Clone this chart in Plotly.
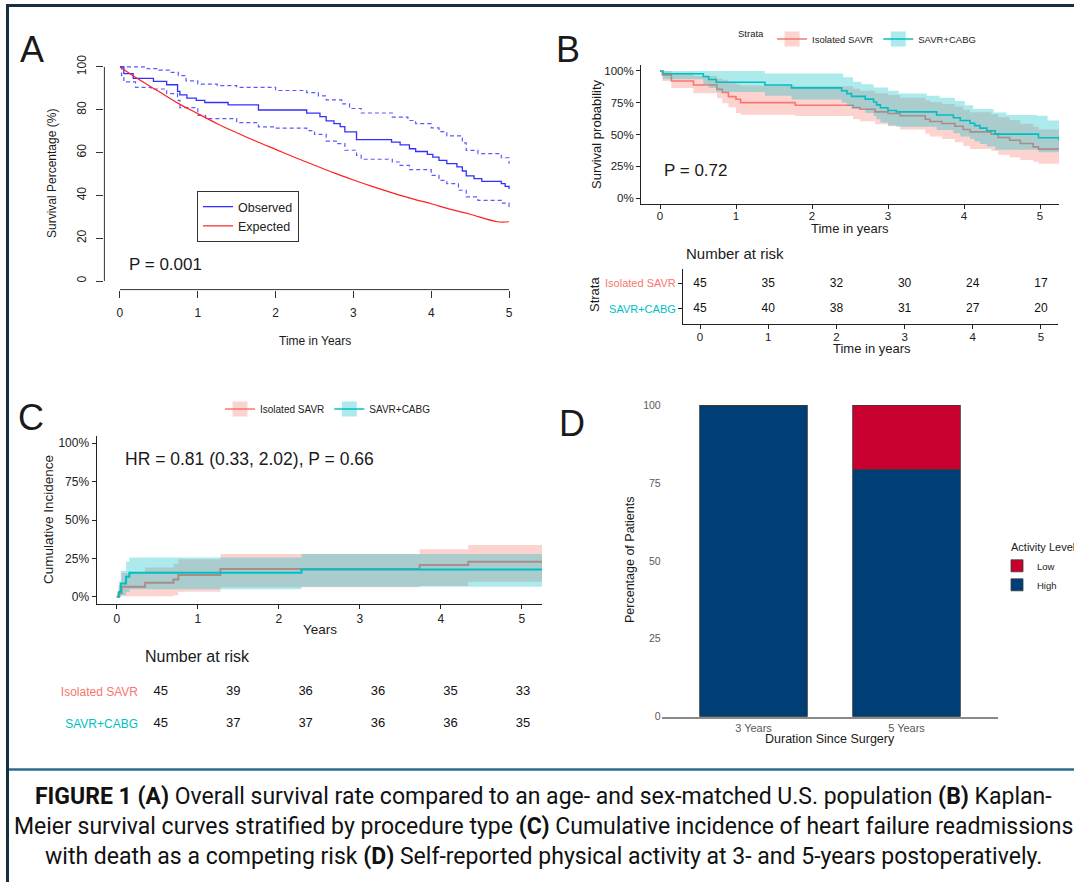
import plotly.graph_objects as go

W, H = 1074, 882
def fx(p):
    return p / W
def fy(p):
    return 1 - p / H

FONT = "Liberation Sans, Arial, Helvetica, sans-serif"

# ---------------- Panel A data ----------------
obs_time = [0, 0.05, 0.17, 0.43, 0.6, 0.74, 0.77, 0.86, 0.98, 1.09, 1.39, 1.78, 2.4, 2.57, 2.65,
            2.75, 2.83, 2.89, 3.04, 3.49, 3.6, 3.72, 3.8, 3.95, 4.02, 4.1, 4.2, 4.33, 4.4, 4.45,
            4.55, 4.65, 4.9, 4.95, 5.0]
obs_surv = [100, 96.9, 94.7, 93.3, 91.7, 88.6, 87.0, 85.4, 84.4, 83.4, 82.3, 79.9, 78.4, 76.8, 74.8,
            73.5, 72.1, 69.7, 66.1, 64.9, 63.6, 61.8, 60.5, 59.2, 57.9, 56.4, 54.8, 53.3, 51.4, 49.1,
            47.8, 46.6, 45.5, 44.2, 43.0]
up_time = [0, 0.35, 0.5, 0.65, 0.75, 0.85, 1.0, 1.25, 1.5, 2.0, 2.4, 2.55, 2.65, 2.85, 2.95, 3.1,
           3.5, 3.7, 3.8, 4.0, 4.1, 4.2, 4.4, 4.45, 4.6, 4.9, 5.0]
up_surv = [100, 99.2, 98.5, 97.5, 96.0, 93.5, 92.0, 91.3, 90.5, 89.0, 88.0, 86.5, 84.6, 82.8, 80.6,
           78.5, 76.6, 75.0, 73.5, 71.5, 69.8, 67.8, 64.5, 61.0, 59.5, 57.6, 54.8]
lo_time = [0, 0.02, 0.05, 0.2, 0.4, 0.6, 0.74, 0.77, 1.0, 1.1, 1.5, 1.78, 2.0, 2.4, 2.5, 2.65, 2.8,
           2.89, 3.04, 3.1, 3.5, 3.6, 3.72, 4.0, 4.1, 4.2, 4.35, 4.45, 4.6, 4.9, 5.0]
lo_surv = [100, 96.0, 93.0, 90.5, 89.7, 87.5, 84.4, 81.0, 77.4, 75.9, 74.0, 72.0, 71.4, 70.3, 68.5,
           65.4, 64.2, 61.1, 58.7, 56.9, 55.6, 54.0, 52.0, 49.4, 47.0, 45.5, 42.4, 39.3, 37.7, 36.4, 33.8]
exp_time = [0, 0.25, 0.5, 0.75, 1, 1.25, 1.5, 1.75, 2, 2.25, 2.5, 2.75, 3, 3.25, 3.5, 3.75, 4,
            4.25, 4.5, 4.85, 5]
exp_surv = [100, 94.0, 88.5, 83.0, 78.2, 73.5, 69.3, 65.3, 61.5, 57.7, 54.1, 50.5, 47.2, 44.1,
            41.2, 38.5, 36.1, 33.5, 31.2, 27.7, 27.7]
a_xticks = [0, 1, 2, 3, 4, 5]
a_yticks = [0, 20, 40, 60, 80, 100]

# ---------------- Panel B data ----------------
savr_t = [0, 0.03, 0.15, 0.44, 0.75, 0.82, 0.9, 1.0, 1.06, 1.78, 2.54, 2.63, 2.83, 3.0, 3.16, 3.49,
          3.55, 3.71, 3.88, 3.99, 4.08, 4.36, 4.45, 4.6, 4.74, 4.91, 4.98, 5.25]
savr_s = [100, 96.9, 92.1, 88.9, 85.6, 83.0, 79.8, 77.7, 75.1, 73.0, 71.2, 69.9, 67.8, 66.5, 64.7,
          62.0, 60.2, 58.6, 56.5, 53.9, 52.1, 50.3, 47.6, 45.5, 42.9, 40.3, 38.5, 38.5]
savr_hi = [100, 100, 98.5, 96.0, 94.0, 93.0, 91.5, 89.5, 88.5, 88.0, 86.0, 84.5, 82.5, 81.0, 79.0,
           77.0, 75.5, 74.0, 72.0, 69.5, 67.5, 66.0, 63.5, 61.5, 58.5, 56.0, 54.0, 54.0]
savr_lo = [100, 92.0, 86.5, 82.5, 78.5, 74.5, 71.5, 67.0, 65.5, 64.5, 62.0, 60.5, 58.0, 56.5, 54.0,
           50.5, 48.5, 46.5, 44.0, 41.0, 38.5, 37.0, 34.0, 32.0, 30.0, 28.5, 27.0, 27.0]
cabg_t = [0, 0.04, 0.57, 0.64, 0.74, 1.38, 1.73, 2.39, 2.46, 2.52, 2.7, 2.81, 2.85, 2.9, 3.0, 3.11,
          3.64, 3.86, 3.95, 4.08, 4.14, 4.21, 4.3, 4.41, 4.98, 5.25]
cabg_s = [100, 97.8, 95.6, 93.3, 91.1, 88.9, 86.7, 84.4, 82.2, 80.0, 77.8, 75.6, 73.3, 71.1, 68.9,
          67.8, 65.4, 63.2, 61.0, 58.8, 57.0, 55.0, 52.9, 50.3, 47.5, 45.2]
cabg_lo = [100, 93.5, 89.5, 86.5, 83.5, 80.5, 77.5, 75.0, 72.5, 70.0, 67.0, 64.5, 62.0, 59.5, 57.0,
           56.0, 53.5, 51.0, 48.5, 46.5, 44.5, 42.5, 40.5, 38.0, 36.0, 33.5]
cabg_hi_t = [0, 1.38, 2.41, 2.54, 2.65, 2.81, 3.0, 3.14, 3.51, 3.68, 3.88, 4.01, 4.12, 4.39, 4.56,
             4.96, 5.1, 5.25]
cabg_hi = [100, 97.9, 95.0, 91.6, 89.5, 87.0, 84.5, 82.2, 80.4, 79.0, 76.4, 73.0, 70.0, 67.3, 65.4,
           64.7, 61.0, 61.0]
strata = ["Isolated SAVR", "SAVR+CABG"]
risk_times = [0, 1, 2, 3, 4, 5]
b_risk_savr = [45, 35, 32, 30, 24, 17]
b_risk_cabg = [45, 40, 38, 31, 27, 20]
pct_ticks = [0, 25, 50, 75, 100]
pct_labels = ["0%", "25%", "50%", "75%", "100%"]

# ---------------- Panel C data ----------------
inc_savr_t = [0, 0.02, 0.06, 0.35, 0.7, 0.76, 1.28, 3.74, 4.34, 5.25]
inc_savr = [0, 2.2, 6.5, 9.1, 11.3, 14.1, 18.0, 20.6, 22.8, 22.8]
inc_savr_hi = [0, 7.5, 15.5, 19.0, 21.5, 24.5, 27.8, 30.9, 33.7, 33.7]
inc_savr_lo = [0, 0, 0.3, 0.3, 1.0, 3.3, 6.1, 7.0, 9.8, 9.8]
inc_cabg_t = [0, 0.03, 0.05, 0.115, 0.156, 2.28, 5.25]
inc_cabg = [0, 3.3, 8.7, 13.0, 15.7, 17.8, 17.8]
inc_cabg_hi = [0, 10.0, 17.0, 23.0, 25.6, 27.8, 27.8]
inc_cabg_lo = [0, 0, 1.0, 3.0, 4.8, 6.5, 6.5]
c_risk_savr = [45, 39, 36, 36, 35, 33]
c_risk_cabg = [45, 37, 37, 36, 36, 35]

# ---------------- Panel D data ----------------
durations = ["3 Years", "5 Years"]
high_pct = [100, 79.2]
low_pct = [0, 20.8]
d_yticks = [0, 25, 50, 75, 100]

RED, TEAL = "#F8766D", "#00BFC4"
RED_F, TEAL_F = "rgba(248,118,109,0.32)", "rgba(0,191,196,0.32)"

fig = go.Figure()

# ---------- Panel A traces ----------
dash_style = dict(color="#5a5aff", width=1.2, dash="4px,3px", shape="hv")
fig.add_trace(go.Scatter(x=up_time, y=up_surv, mode="lines", line=dash_style,
                         xaxis="x", yaxis="y", showlegend=False, hoverinfo="skip"))
fig.add_trace(go.Scatter(x=lo_time, y=lo_surv, mode="lines", line=dash_style,
                         xaxis="x", yaxis="y", showlegend=False, hoverinfo="skip"))
fig.add_trace(go.Scatter(x=obs_time, y=obs_surv, mode="lines", name="Observed",
                         line=dict(color="#3030ff", width=1.3, shape="hv"),
                         xaxis="x", yaxis="y", legend="legend"))
fig.add_trace(go.Scatter(x=exp_time, y=exp_surv, mode="lines", name="Expected",
                         line=dict(color="#ff2020", width=1.2, shape="spline"),
                         xaxis="x", yaxis="y", legend="legend"))

# ---------- Panel B traces ----------
def ribbon(t_hi, hi, t_lo, lo, fill, xa, ya):
    fig.add_trace(go.Scatter(x=t_hi, y=hi, mode="lines", line=dict(width=0, shape="hv"),
                             xaxis=xa, yaxis=ya, showlegend=False, hoverinfo="skip"))
    fig.add_trace(go.Scatter(x=t_lo, y=lo, mode="lines", line=dict(width=0, shape="hv"),
                             fill="tonexty", fillcolor=fill,
                             xaxis=xa, yaxis=ya, showlegend=False, hoverinfo="skip"))

ribbon(savr_t, savr_hi, savr_t, savr_lo, RED_F, "x2", "y2")
fig.add_trace(go.Scatter(x=savr_t, y=savr_s, mode="lines", line=dict(color=RED, width=1.6, shape="hv"),
                         xaxis="x2", yaxis="y2", showlegend=False))
ribbon(cabg_hi_t, cabg_hi, cabg_t, cabg_lo, TEAL_F, "x2", "y2")
fig.add_trace(go.Scatter(x=cabg_t, y=cabg_s, mode="lines", line=dict(color=TEAL, width=1.6, shape="hv"),
                         xaxis="x2", yaxis="y2", showlegend=False))
for nm, col, fc in [(strata[0], RED, RED_F), (strata[1], TEAL, TEAL_F)]:
    fig.add_trace(go.Scatter(x=[None], y=[None], mode="lines+markers", name=nm,
                             line=dict(color=col, width=1.6),
                             marker=dict(symbol="square", size=15, color=fc, line=dict(width=0)),
                             xaxis="x2", yaxis="y2", legend="legend2"))

# B risk table
fig.add_trace(go.Scatter(x=risk_times, y=[1] * len(risk_times), mode="text",
                         text=[str(v) for v in b_risk_savr],
                         textfont=dict(size=12, color="#111", family=FONT),
                         xaxis="x3", yaxis="y3", showlegend=False, hoverinfo="skip"))
fig.add_trace(go.Scatter(x=risk_times, y=[0] * len(risk_times), mode="text",
                         text=[str(v) for v in b_risk_cabg],
                         textfont=dict(size=12, color="#111", family=FONT),
                         xaxis="x3", yaxis="y3", showlegend=False, hoverinfo="skip"))

# ---------- Panel C traces ----------
ribbon(inc_savr_t, inc_savr_hi, inc_savr_t, inc_savr_lo, RED_F, "x4", "y4")
fig.add_trace(go.Scatter(x=inc_savr_t, y=inc_savr, mode="lines", line=dict(color=RED, width=2, shape="hv"),
                         xaxis="x4", yaxis="y4", showlegend=False))
ribbon(inc_cabg_t, inc_cabg_hi, inc_cabg_t, inc_cabg_lo, TEAL_F, "x4", "y4")
fig.add_trace(go.Scatter(x=inc_cabg_t, y=inc_cabg, mode="lines", line=dict(color=TEAL, width=2, shape="hv"),
                         xaxis="x4", yaxis="y4", showlegend=False))
for nm, col, fc in [(strata[0], RED, RED_F), (strata[1], TEAL, TEAL_F)]:
    fig.add_trace(go.Scatter(x=[None], y=[None], mode="lines+markers", name=nm,
                             line=dict(color=col, width=1.6),
                             marker=dict(symbol="square", size=15, color=fc, line=dict(width=0)),
                             xaxis="x4", yaxis="y4", legend="legend3"))

# C risk table
fig.add_trace(go.Scatter(x=risk_times, y=[1] * len(risk_times), mode="text",
                         text=[str(v) for v in c_risk_savr],
                         textfont=dict(size=13, color="#111", family=FONT),
                         xaxis="x5", yaxis="y5", showlegend=False, hoverinfo="skip"))
fig.add_trace(go.Scatter(x=risk_times, y=[0] * len(risk_times), mode="text",
                         text=[str(v) for v in c_risk_cabg],
                         textfont=dict(size=13, color="#111", family=FONT),
                         xaxis="x5", yaxis="y5", showlegend=False, hoverinfo="skip"))

# ---------- Panel D traces ----------
fig.add_trace(go.Bar(x=durations, y=high_pct, name="High", marker=dict(color="#003F75", line=dict(color="#3a3a3a", width=0.8)),
                     xaxis="x6", yaxis="y6", legend="legend4"))
fig.add_trace(go.Bar(x=durations, y=low_pct, name="Low", marker=dict(color="#C8002F", line=dict(color="#3a3a3a", width=0.8)),
                     xaxis="x6", yaxis="y6", legend="legend4"))

# ---------- axes ----------
tf = dict(family=FONT, size=12, color="#222")
base = dict(showgrid=False, zeroline=False)

lay = dict(
    width=W, height=H, margin=dict(l=0, r=0, t=0, b=0, autoexpand=False),
    paper_bgcolor="white", plot_bgcolor="rgba(0,0,0,0)",
    font=dict(family=FONT, color="#222"),
    barmode="stack", bargap=0.3,
    xaxis=dict(base, domain=[fx(104.4), fx(524.6)], range=[-0.2, 5.2], anchor="y",
               tickvals=a_xticks, ticks="outside", ticklen=7, tickcolor="#333",
               showline=False, tickfont=tf, ticklabelstandoff=5),
    yaxis=dict(base, domain=[fy(289.6), fy(58.4)], range=[-4, 104], anchor="x",
               tickvals=a_yticks, ticks="outside", ticklen=7, tickcolor="#333",
               tickangle=-90, showline=False, tickfont=tf, ticklabelstandoff=6),
    xaxis2=dict(base, domain=[fx(641), fx(1059)], range=[-0.25, 5.25], anchor="y2",
                tickvals=risk_times, ticks="outside", ticklen=4, tickcolor="#222",
                showline=True, linecolor="#222", linewidth=1, tickfont=dict(tf, size=11.5),
                ticklabelstandoff=-3),
    yaxis2=dict(base, domain=[fy(204.4), fy(64.6)], range=[-5, 105], anchor="x2",
                tickvals=pct_ticks, ticktext=pct_labels, ticks="outside", ticklen=4, tickcolor="#222",
                showline=True, linecolor="#222", linewidth=1, tickfont=dict(tf, size=11.5)),
    xaxis3=dict(base, domain=[fx(683), fx(1058)], range=[-0.25, 5.25], anchor="y3",
                tickvals=risk_times, ticks="outside", ticklen=4, tickcolor="#222",
                showline=True, linecolor="#222", linewidth=1, tickfont=dict(tf, size=11.5),
                ticklabelstandoff=-2),
    yaxis3=dict(base, domain=[fy(324), fy(268.5)], range=[-0.6, 1.6], anchor="x3",
                tickvals=[1, 0],
                ticktext=[f"<span style='color:{RED}'>{strata[0]}</span>",
                          f"<span style='color:{TEAL}'>{strata[1]}</span>"],
                ticks="outside", ticklen=4, tickcolor="#222",
                showline=True, linecolor="#222", linewidth=1, tickfont=dict(tf, size=11)),
    xaxis4=dict(base, domain=[fx(96.5), fx(542)], range=[-0.25, 5.25], anchor="y4",
                tickvals=risk_times, ticks="outside", ticklen=4, tickcolor="#222",
                showline=True, linecolor="#222", linewidth=1, tickfont=dict(tf, size=12),
                ticklabelstandoff=-1),
    yaxis4=dict(base, domain=[fy(604.4), fy(435.6)], range=[-5, 105], anchor="x4",
                tickvals=pct_ticks, ticktext=pct_labels, ticks="outside", ticklen=4, tickcolor="#222",
                showline=True, linecolor="#222", linewidth=1, tickfont=dict(tf, size=12)),
    xaxis5=dict(base, domain=[fx(145), fx(540)], range=[-0.2167, 5.235], anchor="y5", visible=False),
    yaxis5=dict(base, domain=[fy(742.3), fy(672.8)], range=[-0.6, 1.6], anchor="x5",
                tickvals=[1, 0],
                ticktext=[f"<span style='color:{RED}'>{strata[0]}</span>",
                          f"<span style='color:{TEAL}'>{strata[1]}</span>"],
                ticks="", showline=False, tickfont=dict(tf, size=12), ticklabelstandoff=6),
    xaxis6=dict(base, domain=[fx(661.7), fx(998.3)], range=[-0.6, 1.6], anchor="y6",
                type="category", showline=True, linecolor="#8a8a8a", linewidth=1.5, ticks="",
                tickfont=dict(family=FONT, size=11, color="#5a5a5a")),
    yaxis6=dict(base, domain=[fy(716.7), fy(405)], range=[0, 100], anchor="x6",
                tickvals=d_yticks, ticks="", showline=False,
                tickfont=dict(family=FONT, size=10.5, color="#5a5a5a")),
    legend=dict(x=fx(197), y=fy(191), xanchor="left", yanchor="top", bgcolor="white",
                bordercolor="#333", borderwidth=1, font=dict(family=FONT, size=12.5, color="#222"),
                tracegroupgap=0, traceorder="normal"),
    legend2=dict(orientation="h", x=fx(736), y=fy(39), xanchor="left", yanchor="middle",
                 bgcolor="rgba(0,0,0,0)", font=dict(family=FONT, size=9.5, color="#222"),
                 traceorder="normal",
                 title=dict(text="Strata", side="left", font=dict(family=FONT, size=9.5, color="#222"))),
    legend3=dict(orientation="h", x=fx(220), y=fy(409), xanchor="left", yanchor="middle",
                 bgcolor="rgba(0,0,0,0)", font=dict(family=FONT, size=10, color="#222"),
                 traceorder="normal"),
    legend4=dict(x=fx(1009), y=fy(537), xanchor="left", yanchor="top", traceorder="reversed",
                 indentation=-12,
                 bgcolor="rgba(0,0,0,0)", font=dict(family=FONT, size=9.5, color="#222"),
                 title=dict(text="Activity Level", font=dict(family=FONT, size=11, color="#222"))),
)

def ann(text, x, y, size, xanchor="center", yanchor="middle", color="#1a1a1a", angle=0, family=FONT):
    return dict(text=text, x=fx(x), y=fy(y), xref="paper", yref="paper", showarrow=False,
                xanchor=xanchor, yanchor=yanchor, textangle=angle,
                font=dict(family=family, size=size, color=color))

CAP = "Roboto, sans-serif"
annotations = [
    ann("A", 31.5, 49, 36), ann("B", 568, 49, 36), ann("C", 31, 417, 36), ann("D", 572, 423, 36),
    ann("Time in Years", 315, 341, 12),
    ann("Survival Percentage (%)", 52, 174, 12, angle=-90),
    ann("P = 0.001", 127, 264, 17, xanchor="left"),
    ann("Time in years", 850, 228, 13),
    ann("Survival probability", 597, 134, 13, angle=-90),
    ann("P = 0.72", 662, 170, 17, xanchor="left"),
    ann("Number at risk", 684, 253, 15, xanchor="left"),
    ann("Time in years", 872, 348, 13),
    ann("Strata", 594, 295, 13, angle=-90),
    ann("Cumulative Incidence", 48, 520, 13.5, angle=-90),
    ann("Years", 320, 629, 13.5),
    ann("HR = 0.81 (0.33, 2.02), P = 0.66", 123, 459, 17.5, xanchor="left"),
    ann("Number at risk", 143, 656, 16, xanchor="left"),
    ann("Percentage of Patients", 630, 560, 12.5, angle=-90),
    ann("Duration Since Surgery", 830, 739, 12.5),
    ann("<b>FIGURE 1 (A)</b> Overall survival rate compared to an age- and sex-matched U.S. population <b>(B)</b> Kaplan-",
        543, 796, 23, color="#111", family=CAP),
    ann("Meier survival curves stratified by procedure type <b>(C)</b> Cumulative incidence of heart failure readmissions",
        543, 826, 23, color="#111", family=CAP),
    ann("with death as a competing risk <b>(D)</b> Self-reported physical activity at 3- and 5-years postoperatively.",
        543, 856, 23, color="#111", family=CAP),
]
lay["annotations"] = annotations

shapes = [
    # Panel A axis lines (base-R style: only between first and last tick)
    dict(type="line", xref="x", yref="y domain", x0=0, x1=5, y0=0, y1=0, line=dict(color="#333", width=1)),
    dict(type="line", xref="x domain", yref="y", x0=0, x1=0, y0=0, y1=100, line=dict(color="#333", width=1)),
    # frame
    dict(type="line", xref="paper", yref="paper", x0=fx(6), x1=1, y0=fy(5.5), y1=fy(5.5),
         line=dict(color="#17303f", width=3)),
    dict(type="line", xref="paper", yref="paper", x0=fx(7.5), x1=fx(7.5), y0=fy(4), y1=0,
         line=dict(color="#17303f", width=3)),
    dict(type="line", xref="paper", yref="paper", x0=fx(9), x1=1, y0=fy(769.5), y1=fy(769.5),
         line=dict(color="#2d6a8b", width=2.5)),
]
lay["shapes"] = shapes

fig.update_layout(**lay)
fig.write_html("out.html")
